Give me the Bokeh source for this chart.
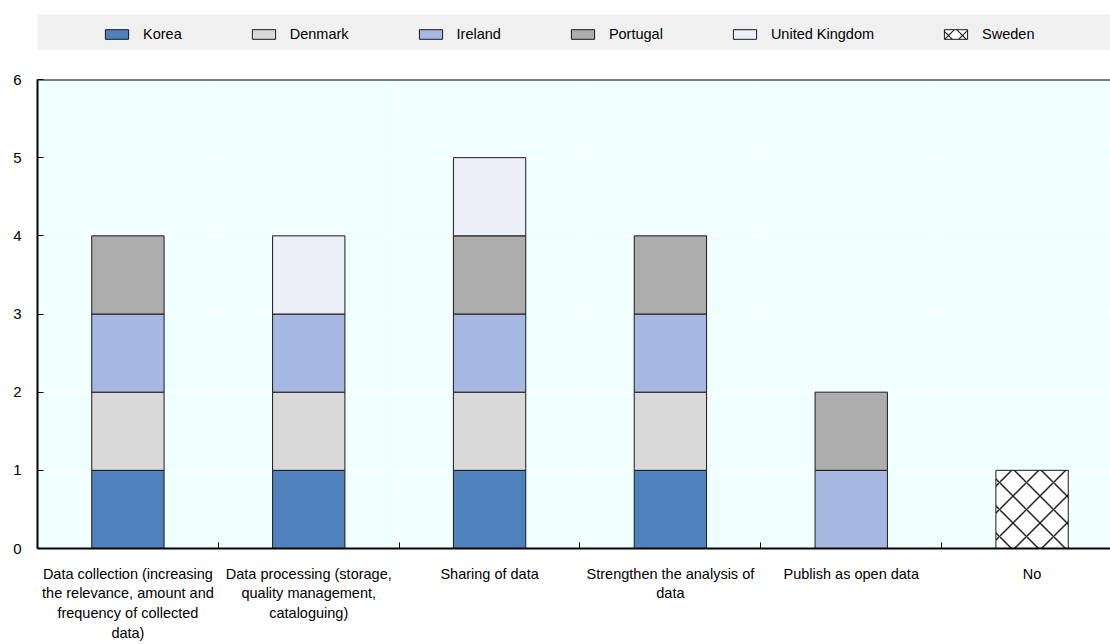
from bokeh.plotting import figure
from bokeh.models import FixedTicker, Legend, LegendItem, Span, Range1d
from bokeh.layouts import column
from bokeh.embed import file_html
from bokeh.resources import INLINE

# ---- data -------------------------------------------------------------
categories = [
    "Data collection (increasing\nthe relevance, amount and\nfrequency of collected\ndata)",
    "Data processing (storage,\nquality management,\ncataloguing)",
    "Sharing of data",
    "Strengthen the analysis of\ndata",
    "Publish as open data",
    "No",
]
countries = ["Korea", "Denmark", "Ireland", "Portugal", "United Kingdom", "Sweden"]
korea = [1, 1, 1, 1, 0, 0]
denmark = [1, 1, 1, 1, 0, 0]
ireland = [1, 1, 1, 1, 1, 0]
portugal = [1, 0, 1, 1, 1, 0]
united_kingdom = [0, 1, 1, 0, 0, 0]
sweden = [0, 0, 0, 0, 0, 1]
y_ticks = [0, 1, 2, 3, 4, 5, 6]

series = [korea, denmark, ireland, portugal, united_kingdom, sweden]
fills = ["#4f81bd", "#d9d9d9", "#a7b9e3", "#adadad", "#eceff8", "#ffffff"]
hatches = [None, None, None, None, None, "diagonal_cross"]

FONT = "Liberation Sans"
FS = "14.5px"
OUTLINE = "#1a1a1a"

# ---- main chart -------------------------------------------------------
W, H = 1110, 594
LEFT, TOP, BOTTOM = 36, 29, 85
CAT_W = 181  # pixel width of one category slot
centers = [i + 0.5 for i in range(len(categories))]

p = figure(
    width=W, height=H,
    x_range=Range1d(0, (W - LEFT) / CAT_W),
    y_range=Range1d(0, 6),
    output_backend="svg", toolbar_location=None,
    min_border_left=LEFT, min_border_right=0,
    min_border_top=TOP, min_border_bottom=BOTTOM,
    background_fill_color="#f0ffff", border_fill_color="white",
    outline_line_color=None,
)

bottoms = [0] * len(categories)
for name, vals, fc, hp in zip(countries, series, fills, hatches):
    xs, bots, tops = [], [], []
    for i, v in enumerate(vals):
        if v:
            xs.append(centers[i])
            bots.append(bottoms[i])
            tops.append(bottoms[i] + v)
        bottoms[i] += v
    kw = dict(x=xs, bottom=bots, top=tops, width=0.4,
              fill_color=fc, line_color=OUTLINE, line_width=1)
    if hp:
        kw.update(hatch_pattern=hp, hatch_color="#222222",
                  hatch_weight=1.5, hatch_scale=27)
    p.vbar(**kw)

# grid: white lines at category boundaries and integer values
p.xgrid.ticker = FixedTicker(ticks=[1, 2, 3, 4, 5])
p.ygrid.ticker = FixedTicker(ticks=[1, 2, 3, 4, 5])
p.grid.grid_line_color = "white"
p.grid.grid_line_width = 1
p.grid.level = "underlay"

# x axis: labels at category centres, ticks at boundaries
xa = p.xaxis[0]
xa.ticker = FixedTicker(ticks=centers, minor_ticks=[1, 2, 3, 4, 5])
xa.major_label_overrides = {c: lab for c, lab in zip(centers, categories)}
xa.major_tick_in = 0
xa.major_tick_out = 0
xa.minor_tick_in = 6
xa.minor_tick_out = 0
xa.minor_tick_line_color = "black"
xa.axis_line_width = 2
xa.axis_line_color = "black"
xa.major_label_standoff = 17
xa.major_label_text_font = FONT
xa.major_label_text_font_size = FS
xa.major_label_text_color = "black"
xa.major_label_text_line_height = 1.24

ya = p.yaxis[0]
ya.ticker = FixedTicker(ticks=y_ticks)
ya.major_tick_in = 6
ya.major_tick_out = 0
ya.minor_tick_line_color = None
ya.axis_line_width = 2
ya.axis_line_color = "black"
ya.major_label_standoff = 16
ya.major_label_text_font = FONT
ya.major_label_text_font_size = "15px"
ya.major_label_text_color = "black"

p.add_layout(Span(location=6, dimension="width", line_color="black", line_width=2))

# ---- legend strip -----------------------------------------------------
key = figure(
    width=W, height=50, x_range=(0, 1), y_range=(0, 1),
    x_axis_type=None, y_axis_type=None,
    output_backend="svg", toolbar_location=None,
    min_border_left=37, min_border_right=0, min_border_top=14, min_border_bottom=0,
    background_fill_color="#f0f0f0", border_fill_color="white",
    outline_line_color=None,
)
key.grid.visible = False

# swatch renderers sit outside the visible range; only their legend entries show
items = []
for name, fc, hp in zip(countries, fills, hatches):
    kw = dict(x=[-5], top=[-5], bottom=[-6], width=0.1,
              fill_color=fc, line_color=OUTLINE, line_width=1)
    if hp:
        kw.update(hatch_pattern=hp, hatch_color="#222222", hatch_weight=1.2, hatch_scale=14)
    r = key.vbar(**kw)
    items.append(LegendItem(label=name, renderers=[r]))

legend = Legend(
    items=items, orientation="horizontal", location=(65, 8),
    glyph_width=29, glyph_height=12, label_standoff=12, spacing=67,
    padding=0, margin=0, label_height=12,
    label_text_font=FONT, label_text_font_size=FS, label_text_color="black",
    background_fill_alpha=0, border_line_color=None,
)
key.add_layout(legend)

layout = column(key, p, spacing=0)
open("out.html", "w").write(file_html(layout, INLINE))
